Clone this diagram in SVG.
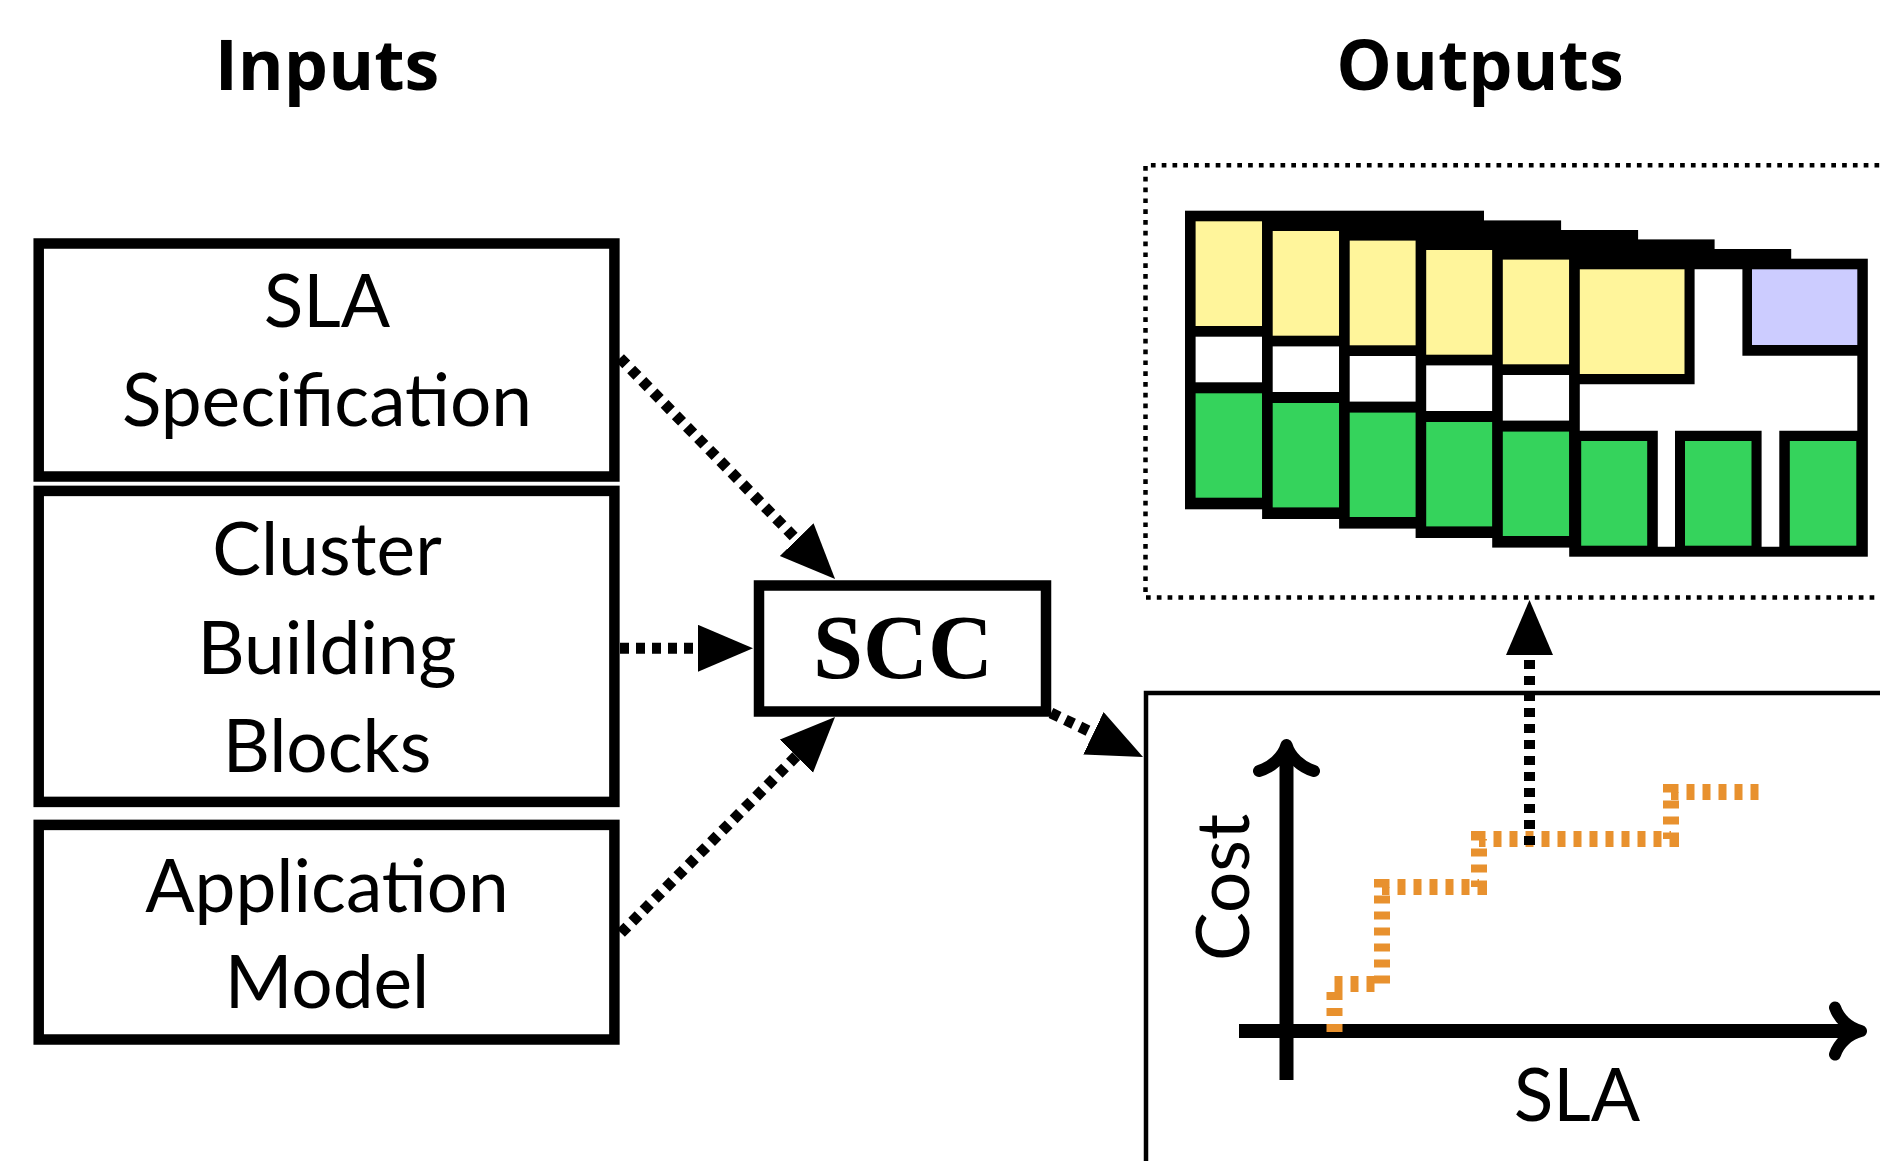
<svg xmlns="http://www.w3.org/2000/svg" width="1880" height="1161" viewBox="0 0 1880 1161">
  <style>
    .title { font-family: "Open Sans", Lato, "DejaVu Sans", sans-serif; font-weight: 700; font-size: 70px; text-anchor: middle; fill: #000; }
    .lbl { font-family: Lato, "Open Sans", "DejaVu Sans", sans-serif; font-size: 73px; text-anchor: middle; fill: #000; }
    .scc { font-family: "Liberation Serif", "DejaVu Serif", serif; font-weight: 700; font-size: 90px; text-anchor: middle; fill: #000; }
    .box { fill: #fff; stroke: #000; stroke-width: 10.5; }
    .conn { fill: none; stroke: #000; stroke-width: 11; stroke-dasharray: 9 7; }
    .axis { fill: none; stroke: #000; stroke-width: 14; }
    .tip { fill: none; stroke: #000; stroke-width: 12; stroke-linecap: round; stroke-linejoin: round; }
    .step { fill: none; stroke: #E8912E; stroke-width: 16; stroke-dasharray: 8 8; }
    .frame { fill: none; stroke: #000; stroke-width: 4.5; }
    .dotted { fill: none; stroke: #000; stroke-width: 4.5; stroke-dasharray: 4.7 6.1; }
    .k { fill: #000; }
    .y { fill: #FFF59B; }
    .w { fill: #fff; }
    .g { fill: #35D35C; }
    .p { fill: #CCCCFF; }
  </style>
  <defs>
    <marker id="head" markerUnits="userSpaceOnUse" markerWidth="56" markerHeight="48" refX="0" refY="23.5" orient="auto" viewBox="0 0 56 48">
      <path d="M0,0 L55,23.5 L0,47 Z" fill="#000"/>
    </marker>
    <!-- one server card; only its first column stays visible under the next card -->
    <g id="card">
      <rect class="k" x="0" y="0" width="299" height="298.6"/>
      <rect class="y" x="10.6" y="10.6" width="66.5" height="104.7"/>
      <rect class="w" x="10.6" y="126" width="66.5" height="45.6"/>
      <rect class="g" x="10.6" y="182.6" width="66.5" height="104.4"/>
    </g>
  </defs>

  <rect x="0" y="0" width="1880" height="1161" fill="#fff"/>

  <!-- headings -->
  <text class="title" x="327" y="90">Inputs</text>
  <text class="title" x="1480" y="90">Outputs</text>

  <!-- input nodes -->
  <g id="sla-spec">
    <rect class="box" x="38.7" y="243.5" width="575.7" height="233"/>
    <text class="lbl" x="327" y="327">SLA</text>
    <text class="lbl" x="327" y="426">Specification</text>
  </g>
  <g id="building-blocks">
    <rect class="box" x="38.7" y="490.9" width="575.7" height="311"/>
    <text class="lbl" x="327" y="575">Cluster</text>
    <text class="lbl" x="327" y="673.5">Building</text>
    <text class="lbl" x="327" y="771.5">Blocks</text>
  </g>
  <g id="app-model">
    <rect class="box" x="38.7" y="824.9" width="575.7" height="214.6"/>
    <text class="lbl" x="327" y="911.5">Application</text>
    <text class="lbl" x="327" y="1007.5">Model</text>
  </g>

  <!-- SCC node -->
  <g id="scc">
    <rect class="box" x="759" y="585.5" width="287" height="126"/>
    <text class="scc" x="903" y="678">SCC</text>
  </g>

  <!-- output: stacked cluster configurations -->
  <g id="configs">
    <path class="dotted" d="M1890,165.3 H1145.5 V597.5 H1890"/>
    <use href="#card" x="1185" y="210.7"/>
    <use href="#card" x="1262.1" y="220.4"/>
    <use href="#card" x="1339.1" y="230"/>
    <use href="#card" x="1415.6" y="239.4"/>
    <use href="#card" x="1492.2" y="249"/>
    <g transform="translate(1569.2,258.7)">
      <rect class="k" x="0" y="0" width="298.6" height="298"/>
      <rect class="y" x="10.6" y="10.6" width="104.7" height="104.7"/>
      <path class="w" d="M125.4,10.6 H173.2 V97 H288.1 V172 H210.1 V288 H192.4 V172 H105.8 V288 H88.6 V172 H10.6 V125.6 H125.4 Z"/>
      <rect class="p" x="182.8" y="10.6" width="105.3" height="75.7"/>
      <rect class="g" x="12" y="182.3" width="66" height="104.7"/>
      <rect class="g" x="115.8" y="182.3" width="66.5" height="104.7"/>
      <rect class="g" x="220.6" y="182.3" width="66.5" height="104.7"/>
    </g>
  </g>

  <!-- output: cost vs SLA chart -->
  <g id="cost-chart">
    <path class="frame" d="M1146,1170 V693 H1890"/>
    <line class="axis" x1="1286.5" y1="1080" x2="1286.5" y2="752"/>
    <path class="tip" d="M1259,771 C1272,767 1283,757 1286.5,745 C1290,757 1301,767 1314,771"/>
    <line class="axis" x1="1239" y1="1031" x2="1854" y2="1031"/>
    <path class="tip" d="M1835,1007.5 C1839,1019 1849,1028 1861,1031 C1849,1034 1839,1043 1835,1054.5"/>
    <path class="step" d="M1334.5,1032 V984 H1382 V887 H1479 V839 H1671 V792 H1766"/>
    <text class="lbl" transform="translate(1249,887.5) rotate(-90)" x="0" y="0">Cost</text>
    <text class="lbl" x="1577" y="1121">SLA</text>
  </g>

  <!-- connectors -->
  <g id="connectors">
    <line class="conn" x1="620" y1="358" x2="796.7" y2="539.6" marker-end="url(#head)"/>
    <line class="conn" x1="620" y1="648.3" x2="698" y2="648.3" marker-end="url(#head)"/>
    <line class="conn" x1="621" y1="933" x2="796.3" y2="756.1" marker-end="url(#head)"/>
    <line class="conn" x1="1051" y1="713" x2="1093.4" y2="733.3" marker-end="url(#head)"/>
    <line class="conn" x1="1529.5" y1="845" x2="1529.5" y2="655" marker-end="url(#head)"/>
  </g>
</svg>
